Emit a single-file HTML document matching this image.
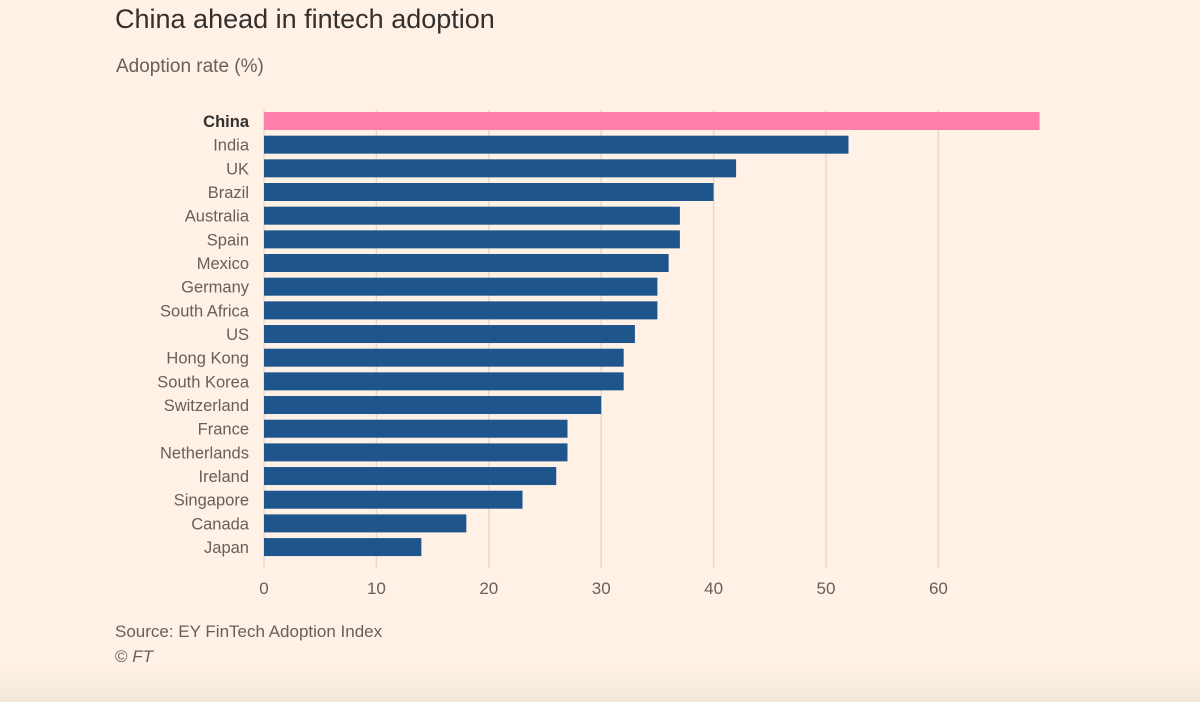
<!DOCTYPE html>
<html><head><meta charset="utf-8"><style>
body{margin:0;width:1200px;height:702px;overflow:hidden;background:#fff1e5;font-family:"Liberation Sans",sans-serif;}
#wrap{position:relative;width:1200px;height:702px;background:linear-gradient(to bottom,#fff1e5 0,#fff1e5 665px,#f3e6da 702px);}
.t{position:absolute;white-space:nowrap;}
</style></head><body><div id="wrap">
<div class="t" style="left:115px;top:4px;font-size:27px;color:#33302e;">China ahead in fintech adoption</div>
<div class="t" style="left:116px;top:56px;font-size:19px;color:#66605c;">Adoption rate (%)</div>
<svg id="chart" width="1200" height="702" style="position:absolute;left:0;top:0"></svg>
<div class="t" style="left:115px;top:622px;font-size:17px;color:#66605c;">Source: EY FinTech Adoption Index</div>
<div class="t" style="left:115px;top:647px;font-size:17px;color:#66605c;">© <i>FT</i></div>
</div>
<script>
const categories=["China","India","UK","Brazil","Australia","Spain","Mexico","Germany","South Africa","US","Hong Kong","South Korea","Switzerland","France","Netherlands","Ireland","Singapore","Canada","Japan"];
const values=[69,52,42,40,37,37,36,35,35,33,32,32,30,27,27,26,23,18,14];
const ticks=[0,10,20,30,40,50,60];
const NS="http://www.w3.org/2000/svg";
const svg=document.getElementById('chart');
const x=v=>264+v*11.24;
const y=i=>121+i*23.67;
function mk(t,a){const e=document.createElementNS(NS,t);for(const k in a)e.setAttribute(k,a[k]);svg.appendChild(e);return e;}
ticks.forEach(t=>{
  const l=mk('line',{x1:x(t),x2:x(t),y1:110,y2:568,stroke:'#e6d9ce','stroke-width':1.5});
  
  
  const tx=mk('text',{x:x(t),y:594,'text-anchor':'middle','font-size':17,fill:'#66605c'});
  tx.textContent=t;
  
  
});
categories.forEach((c,i)=>{
  const r=mk('rect',{x:x(0),y:y(i)-9,width:x(values[i])-x(0),height:18,fill:i===0?'#ff7faa':'#1e558c'});
  
  
  const tx=mk('text',{x:249,y:y(i)+6,'text-anchor':'end','font-size':16.5,fill:i===0?'#33302e':'#66605c','font-weight':i===0?'bold':'normal'});
  tx.textContent=c;
  
  
});
</script>
</body></html>
